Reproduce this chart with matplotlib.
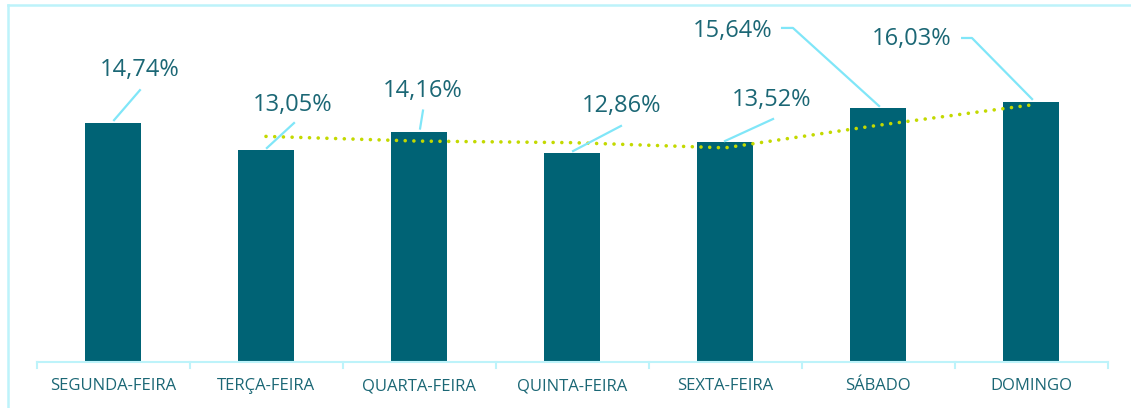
import matplotlib
matplotlib.use("Agg")
import matplotlib.pyplot as plt
from matplotlib.lines import Line2D
import numpy as np
import pandas as pd

# ---- data ----
categories = ["SEGUNDA-FEIRA", "TERÇA-FEIRA", "QUARTA-FEIRA", "QUINTA-FEIRA",
              "SEXTA-FEIRA", "SÁBADO", "DOMINGO"]
values = [14.74, 13.05, 14.16, 12.86, 13.52, 15.64, 16.03]
value_labels = ["14,74%", "13,05%", "14,16%", "12,86%", "13,52%", "15,64%", "16,03%"]

# 2-period moving average trendline (as in the original chart)
trend = pd.Series(values).rolling(2).mean().to_numpy()

# ---- style ----
BAR = "#006375"
TXT = "#1b6775"
LEADER = "#80e6f8"
FRAME = "#bdf3fa"
TREND = "#c3d900"

plt.rcParams["font.family"] = ["Open Sans", "DejaVu Sans"]

W, H = 1131, 408
fig = plt.figure(figsize=(W / 100, H / 100), dpi=100)
ax = fig.add_axes([36.5 / W, (H - 361.5) / H, 1071 / W, 16.2 * 20 / H])

x = np.arange(len(categories))
ax.bar(x, values, width=0.37, color=BAR, zorder=2)
ax.plot(x, trend, linestyle=(0, (0.01, 2.4)), color=TREND, linewidth=2.6,
        dash_capstyle="round", zorder=3)

ax.set_xlim(-0.5, len(categories) - 0.5)
ax.set_ylim(0, 20)

# label layout (text center, leader path points)
label_pos = [(0.176, 18.0), (1.176, 15.83), (2.026, 16.70), (3.327, 15.77),
             (4.307, 16.14), (4.052, 20.4), (5.222, 19.9)]
leader_paths = [
    [(0.007, 14.9), (0.176, 16.75)],
    [(1.006, 13.18), (1.183, 14.72)],
    [(2.007, 14.38), (2.026, 15.49)],
    [(3.007, 12.99), (3.320, 14.54)],
    [(4.0, 13.61), (4.314, 14.97)],
    [(5.007, 15.77), (4.444, 20.59), (4.373, 20.59)],
    [(6.007, 16.2), (5.614, 19.97), (5.55, 19.97)],
]
for lbl, (tx, ty), path in zip(value_labels, label_pos, leader_paths):
    px, py = zip(*path)
    ax.plot(px, py, color=LEADER, linewidth=1.6, clip_on=False, zorder=4)
    ax.text(tx, ty, lbl, ha="center", va="center", fontsize=17, color=TXT,
            clip_on=False, zorder=5)

# axes styling
for s in ["top", "right", "left"]:
    ax.spines[s].set_visible(False)
ax.spines["bottom"].set_color(FRAME)
ax.spines["bottom"].set_linewidth(1.5)
ax.set_yticks([])
ax.set_xticks(x)
ax.set_xticklabels(categories, fontsize=12, color=TXT)
ax.tick_params(axis="x", length=0, pad=12)
# boundary tick marks
for b in np.arange(-0.5, len(categories), 1.0):
    ax.plot([b, b], [0, -0.4], color=FRAME, linewidth=1.5, clip_on=False)

# outer frame (cropped screenshot border)
fig.add_artist(Line2D([8 / W, 8 / W], [0, 1 - 5 / H], color=FRAME, linewidth=1.8,
                      transform=fig.transFigure))
fig.add_artist(Line2D([8 / W, 1], [1 - 5 / H, 1 - 5 / H], color=FRAME, linewidth=1.8,
                      transform=fig.transFigure))

fig.savefig("out.png", dpi=100, facecolor="white")
